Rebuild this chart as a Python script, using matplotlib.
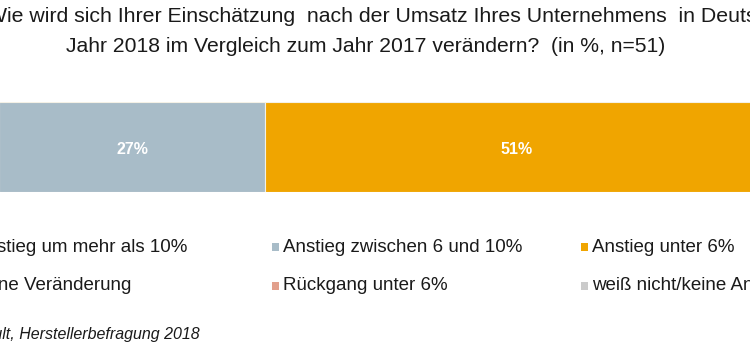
import matplotlib
matplotlib.use('Agg')
import matplotlib.pyplot as plt
import numpy as np
from matplotlib.patches import Rectangle

plt.rcParams['font.family'] = ['Liberation Sans', 'DejaVu Sans']

# data
categories = ['Anstieg um mehr als 10%', 'Anstieg zwischen 6 und 10%', 'Anstieg unter 6%',
              'keine Veränderung', 'Rückgang unter 6%', 'weiß nicht/keine Angabe']
values = [12, 27, 51, 6, 2, 2]
colors = ['#2F5B7C', '#A8BCC8', '#F0A500', '#8A8A8A', '#E2A08C', '#CBCBCB']
# legend order (column, row)
legend_slots = [(0, 0), (1, 0), (2, 0), (0, 1), (1, 1), (2, 1)]

title_1 = 'Wie wird sich Ihrer Einschätzung  nach der Umsatz Ihres Unternehmens  in Deutschland im'
title_2 = 'Jahr 2018 im Vergleich zum Jahr 2017 verändern?  (in %, n=51)'
source = 'Quelle: Consult, Herstellerbefragung 2018'

W, H = 750, 359
fig = plt.figure(figsize=(W / 100, H / 100), dpi=100)

# the bar: the visible picture is a crop, so the axes run past the edges
bar_left, bar_right = -119, 866
bar_top, bar_bottom = 102, 192
ax = fig.add_axes([bar_left / W, 1 - bar_bottom / H,
                   (bar_right - bar_left) / W, (bar_bottom - bar_top) / H])
left = np.concatenate([[0], np.cumsum(values)[:-1]])
ax.barh([0] * len(values), values, left=left, height=1.0, color=colors,
        edgecolor='#F4F1E6', linewidth=0.8)
for l, v in zip(left, values):
    if v >= 5:
        ax.text(l + v / 2, -0.03, f'{v}%', ha='center', va='center', color='white',
                fontsize=11.5, fontweight='bold')
ax.set_xlim(0, 100)
ax.set_ylim(-0.5, 0.5)
ax.axis('off')

# overlay in pixel coordinates for text & legend
ov = fig.add_axes([0, 0, 1, 1])
ov.set_xlim(0, W)
ov.set_ylim(H, 0)
ov.axis('off')
ov.patch.set_alpha(0)

ov.text(-13, 17, title_1, ha='left', va='center', fontsize=15.3, color='#1a1a1a')
ov.text(366, 47, title_2, ha='center', va='center', fontsize=15.2, color='#1a1a1a')

col_x = [-37, 272, 581]
row_y = [247, 286]
for (c, r), cat, col in zip(legend_slots, categories, colors):
    x, y = col_x[c], row_y[r]
    ov.add_patch(Rectangle((x, y - 4), 7, 8, color=col, lw=0))
    ov.text(x + 11, y, cat, ha='left', va='center', fontsize=13.5, color='#1a1a1a')

ov.text(200, 334, source, ha='right', va='center', fontsize=11.5,
        style='italic', color='#1a1a1a')

fig.savefig('out.png', dpi=100)
